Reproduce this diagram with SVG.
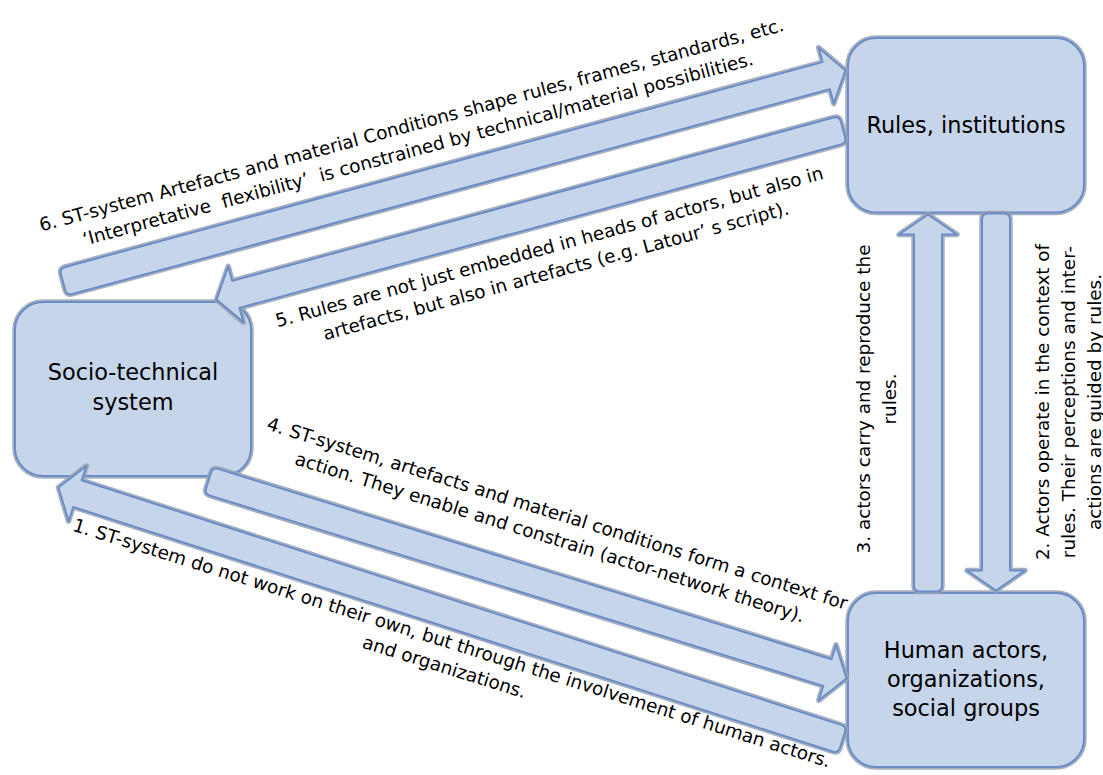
<svg xmlns="http://www.w3.org/2000/svg" xmlns:xlink="http://www.w3.org/1999/xlink" width="1103" height="775" viewBox="0 0 1103 775">
<style>
.o{fill:none;stroke:#98a2b4;stroke-width:5.5;stroke-linejoin:round;opacity:.85}
.f{fill:#c6d5ea;stroke:#6b8cc6;stroke-width:2;stroke-linejoin:round}
.nt{font-family:"DejaVu Sans",sans-serif;font-size:22.4px;fill:#000;text-anchor:middle}
.lb{font-family:"DejaVu Sans",sans-serif;font-size:18.4px;fill:#000;text-anchor:middle}
</style>
<defs>
<path id="a6" d="M6,-14 H790.6 V-29 L810.6,0 L790.6,29 V14 H6 Q0,14 0,8 V-8 Q0,-14 6,-14 Z"/>
<path id="a5" d="M6,-14 H629.2 V-29 L649.2,0 L629.2,29 V14 H6 Q0,14 0,8 V-8 Q0,-14 6,-14 Z"/>
<path id="a4" d="M6,-14 H648 V-29 L668,0 L648,29 V14 H6 Q0,14 0,8 V-8 Q0,-14 6,-14 Z"/>
<path id="a1" d="M6,-14 H803.7 V-29 L823.7,0 L803.7,29 V14 H6 Q0,14 0,8 V-8 Q0,-14 6,-14 Z"/>
<path id="av" d="M6,-14 H357 V-29 L377,0 L357,29 V14 H6 Q0,14 0,8 V-8 Q0,-14 6,-14 Z"/>
</defs>
<rect width="1103" height="775" fill="#fff"/>
<g id="labels">
<text class="lb" transform="translate(413,131) rotate(-15.13)" xml:space="preserve"><tspan x="0" y="0">6. ST-system Artefacts and material Conditions shape rules, frames, standards, etc.</tspan><tspan x="0" y="25">‘Interpretative  flexibility’  is constrained by technical/material possibilities.</tspan></text>
<text class="lb" transform="translate(551,253) rotate(-15.2)" xml:space="preserve"><tspan x="0" y="0">5. Rules are not just embedded in heads of actors, but also in</tspan><tspan x="0" y="25">artefacts, but also in artefacts (e.g. Latour’ s script).</tspan></text>
<text class="lb" transform="translate(555.5,519.5) rotate(17.3)"><tspan x="0" y="0">4. ST-system, artefacts and material conditions form a context for</tspan><tspan x="0" y="25">action. They enable and constrain (actor-network theory).</tspan></text>
<text class="lb" transform="translate(450,649) rotate(17.4)"><tspan x="0" y="0">1. ST-system do not work on their own, but through the involvement of human actors.</tspan><tspan x="0" y="25">and organizations.</tspan></text>
<text class="lb" transform="translate(870,399) rotate(-90)"><tspan x="0" y="0">3. actors carry and reproduce the</tspan><tspan x="0" y="26">rules.</tspan></text>
<text class="lb" transform="translate(1048.5,402) rotate(-90)"><tspan x="0" y="0">2. Actors operate in the context of</tspan><tspan x="0" y="26">rules. Their perceptions and inter-</tspan><tspan x="0" y="52">actions are guided by rules.</tspan></text>
</g>
<g id="node-rules">
<rect class="o" x="848" y="38" width="236" height="174.5" rx="28"/>
<rect class="f" x="848" y="38" width="236" height="174.5" rx="28"/>
<text class="nt" x="966" y="133">Rules, institutions</text>
</g>
<g id="node-socio">
<rect class="o" x="15" y="302" width="236" height="174" rx="28"/>
<rect class="f" x="15" y="302" width="236" height="174" rx="28"/>
<text class="nt" x="133" y="380">Socio-technical</text>
<text class="nt" x="133" y="410">system</text>
</g>
<g id="node-human">
<rect class="o" x="848" y="593" width="236" height="174" rx="28"/>
<rect class="f" x="848" y="593" width="236" height="174" rx="28"/>
<text class="nt" x="966" y="658">Human actors,</text>
<text class="nt" x="966" y="687">organizations,</text>
<text class="nt" x="966" y="716">social groups</text>
</g>
<g id="connectors">
<g id="arrow6" transform="translate(63,282) rotate(-15.13)"><use xlink:href="#a6" class="o"/><use xlink:href="#a6" class="f"/></g>
<g id="arrow5" transform="translate(843,129.4) rotate(164.8)"><use xlink:href="#a5" class="o"/><use xlink:href="#a5" class="f"/></g>
<g id="arrow4" transform="translate(208.5,480.5) rotate(17.24)"><use xlink:href="#a4" class="o"/><use xlink:href="#a4" class="f"/></g>
<g id="arrow1" transform="translate(842.5,740) rotate(197.85)"><use xlink:href="#a1" class="o"/><use xlink:href="#a1" class="f"/></g>
<g id="arrow3" transform="translate(928,591.5) rotate(-90)"><use xlink:href="#av" class="o"/><use xlink:href="#av" class="f"/></g>
<g id="arrow2" transform="translate(996,213.5) rotate(90)"><use xlink:href="#av" class="o"/><use xlink:href="#av" class="f"/></g>
</g>
</svg>
